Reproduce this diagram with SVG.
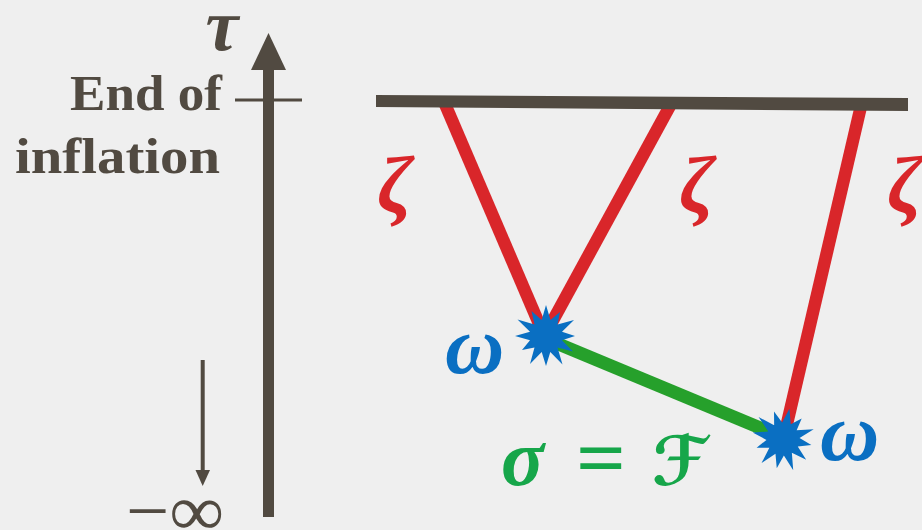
<svg xmlns="http://www.w3.org/2000/svg" width="922" height="530" viewBox="0 0 922 530">
<style>
.dark{fill:#514a41}
.lbl{font-family:"Liberation Serif","DejaVu Serif",serif;font-weight:bold}
.red{stroke:#d9262a;stroke-width:12.5;stroke-linecap:butt;fill:none}
.grn{stroke:#26a02b;stroke-width:13;fill:none}
.blue{fill:#0a6fc2}
.zeta{font-family:"Liberation Serif","DejaVu Serif",serif;font-style:italic;font-weight:bold;font-size:80px;fill:#d9262a;text-anchor:middle}
.omega{font-family:"Liberation Serif","DejaVu Serif",serif;font-style:italic;font-weight:bold;font-size:82px;fill:#0a6fc2}
.sig{font-family:"Liberation Serif","DejaVu Serif",serif;font-weight:bold;font-size:80px;fill:#16a64a}
</style>
<defs>
<path id="star" d="M0,-31 L4.5,-16 L14,-24 L11.5,-11.5 L28,-16 L16,-4.3 L29,0 L16,4.3 L27,15.5 L11.5,11.5 L16.5,28.5 L4.3,16 L0,30 L-4.3,16 L-16,28 L-11.5,11.5 L-24,14 L-16,4.3 L-31,0 L-16,-4.3 L-28.5,-16.5 L-11.5,-11.5 L-14.5,-25 L-4.3,-16 Z"/>
</defs>
<rect width="922" height="530" fill="#efefef"/>

<g id="axis">
<rect class="dark" x="263" y="68" width="11" height="449"/>
<polygon class="dark" points="251,70 286,70 268.5,33"/>
<line x1="235" y1="100" x2="302" y2="100" stroke="#514a41" stroke-width="3"/>
<text class="lbl dark" x="222" y="50" font-size="74" font-style="italic" text-anchor="middle">τ</text>
<text class="lbl dark" x="70" y="110" font-size="50" textLength="152" lengthAdjust="spacingAndGlyphs">End of</text>
<text class="lbl dark" x="15" y="173" font-size="50" textLength="205" lengthAdjust="spacingAndGlyphs">inflation</text>
</g>

<g id="time-arrow">
<line x1="202.7" y1="360" x2="202.7" y2="474" stroke="#514a41" stroke-width="4"/>
<polygon class="dark" points="195.5,470 210,470 202.7,486"/>
<text x="126" y="535" font-family="Liberation Serif,DejaVu Serif,serif" font-size="72" class="dark" textLength="98" lengthAdjust="spacingAndGlyphs">−∞</text>
</g>

<g id="connectors">
<line class="red" x1="445" y1="104" x2="540" y2="326"/>
<line class="red" x1="671" y1="104" x2="551" y2="324"/>
<line class="red" x1="861" y1="106" x2="786" y2="428"/>
<line class="grn" x1="556" y1="343" x2="775" y2="434"/>
</g>

<g id="end-of-inflation">
<polygon class="dark" points="376,95 908,98 908,111 376,107"/>
</g>

<g id="vertex1">
<use href="#star" class="blue" transform="translate(546,336)"/>
<text class="omega" x="445" y="373">ω</text>
</g>
<g id="vertex2">
<use href="#star" class="blue" transform="translate(783,439) rotate(12)"/>
<text class="omega" x="820" y="460">ω</text>
</g>

<g id="labels">
<text class="zeta" x="395" y="212">ζ</text>
<text class="zeta" x="697" y="212">ζ</text>
<text class="zeta" x="905" y="212">ζ</text>
<text class="sig"><tspan x="501" y="485" font-style="italic">σ</tspan><tspan x="576" y="485" textLength="50" lengthAdjust="spacingAndGlyphs">=</tspan><tspan x="652" y="485" font-family="DejaVu Sans,sans-serif" font-size="68" font-style="oblique">ℱ</tspan></text>
</g>
</svg>
